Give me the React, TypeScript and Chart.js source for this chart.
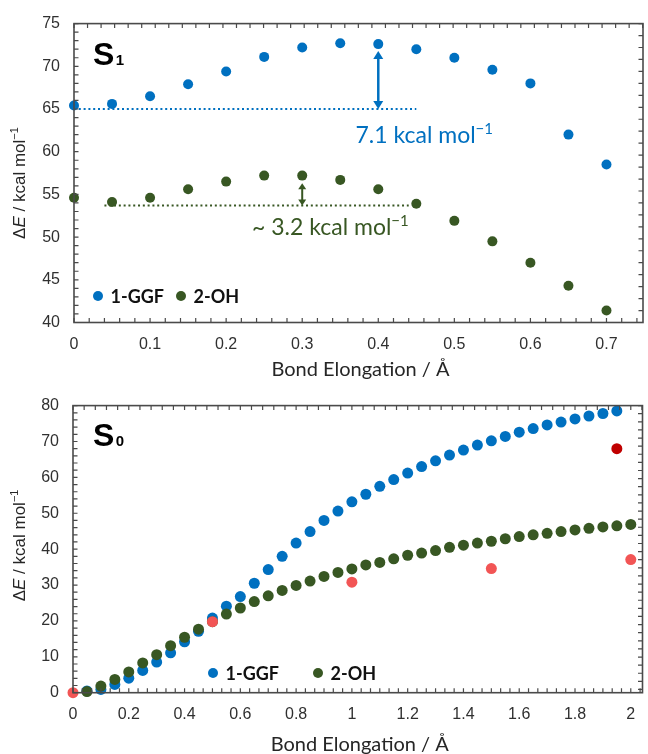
import React, { useEffect, useRef } from "react";
import { Chart, registerables } from "chart.js";

Chart.register(...registerables);

const BLUE = "#0070C0";
const GREEN = "#385723";
const RED = "#F25555";
const DARK_RED = "#C00000";
const AXIS = "#4a4a4a";
const TICK_TXT = "#303030";
const ARIAL = '"Liberation Sans", Arial, sans-serif';
const CAL = 'Lato, "Open Sans", sans-serif';

// ---------- S1 panel data ----------
const s1Elong = [0, 0.05, 0.1, 0.15, 0.2, 0.25, 0.3, 0.35, 0.4, 0.45, 0.5, 0.55, 0.6, 0.65, 0.7];
const s1GGF = [65.4, 65.6, 66.5, 67.9, 69.4, 71.1, 72.2, 72.7, 72.6, 72.0, 71.0, 69.6, 68.0, 62.0, 58.5];
const s1OH = [54.6, 54.1, 54.6, 55.6, 56.5, 57.2, 57.2, 56.7, 55.6, 53.9, 51.9, 49.5, 47.0, 44.3, 41.4];
const s1XTicks = [0, 0.1, 0.2, 0.3, 0.4, 0.5, 0.6, 0.7];
const s1YTicks = [40, 45, 50, 55, 60, 65, 70, 75];

// ---------- S0 panel data ----------
const s0ElongGGF = [0.05, 0.1, 0.15, 0.2, 0.25, 0.3, 0.35, 0.4, 0.45, 0.5, 0.55, 0.6, 0.65, 0.7, 0.75, 0.8, 0.85, 0.9, 0.95, 1.0,
  1.05, 1.1, 1.15, 1.2, 1.25, 1.3, 1.35, 1.4, 1.45, 1.5, 1.55, 1.6, 1.65, 1.7, 1.75, 1.8, 1.85, 1.9, 1.95];
const s0GGF = [0.5, 0.9, 2.3, 4.05, 6.2, 8.55, 11.1, 14.2, 17.1, 20.8, 24.1, 26.8, 30.5, 34.3, 38.0, 41.7, 44.9, 48.0, 50.6, 53.2,
  55.3, 57.5, 59.4, 61.2, 63.0, 64.6, 66.2, 67.6, 69.0, 70.2, 71.4, 72.6, 73.6, 74.6, 75.4, 76.3, 77.1, 77.8, 78.5];
const s0ElongOH = [0.05, 0.1, 0.15, 0.2, 0.25, 0.3, 0.35, 0.4, 0.45, 0.5, 0.55, 0.6, 0.65, 0.7, 0.75, 0.8, 0.85, 0.9, 0.95, 1.0,
  1.05, 1.1, 1.15, 1.2, 1.25, 1.3, 1.35, 1.4, 1.45, 1.5, 1.55, 1.6, 1.65, 1.7, 1.75, 1.8, 1.85, 1.9, 1.95, 2.0];
const s0OH = [0.3, 1.85, 3.7, 5.8, 8.3, 10.6, 13.1, 15.45, 17.7, 19.8, 21.9, 23.6, 25.4, 27.0, 28.5, 29.9, 31.1, 32.4, 33.5, 34.5,
  35.6, 36.3, 37.3, 38.3, 38.9, 39.6, 40.5, 41.1, 41.7, 42.2, 42.9, 43.5, 44.0, 44.4, 44.9, 45.35, 45.8, 46.2, 46.5, 46.9];
const s0ElongRef = [0, 0.5, 1.0, 1.5, 2.0];
const s0Ref = [0, 19.8, 30.8, 34.6, 37.1];
const s0ElongRefDark = [1.95];
const s0RefDark = [68.0];
const s0XTicks = [0, 0.2, 0.4, 0.6, 0.8, 1, 1.2, 1.4, 1.6, 1.8, 2];
const s0YTicks = [0, 10, 20, 30, 40, 50, 60, 70, 80];

const seriesLabels = ["1-GGF", "2-OH"];
const xTitle = "Bond Elongation / Å";

// annotations of S1 panel
const s1Dotted = [
  { y: 65.0, x0: 0, x1: 0.45, color: BLUE },
  { y: 53.7, x0: 0.04, x1: 0.44, color: GREEN },
];
const s1Arrows = [
  { x: 0.4, y0: 71.8, y1: 65.0, color: BLUE, lw: 2.5, hl: 8, hw: 10 },
  { x: 0.3, y0: 56.3, y1: 53.7, color: GREEN, lw: 2, hl: 6, hw: 8 },
];
const s1Notes = [
  { x: 0.37, y: 61.0, text: "7.1 kcal mol", color: BLUE },
  { x: 0.234, y: 50.3, text: "~ 3.2 kcal mol", color: GREEN },
];

type Part = { text: string; font: string; dy?: number };

function measureParts(ctx: CanvasRenderingContext2D, parts: Part[]) {
  let w = 0;
  for (const p of parts) {
    ctx.font = p.font;
    w += ctx.measureText(p.text).width;
  }
  return w;
}

function drawParts(ctx: CanvasRenderingContext2D, x: number, y: number, parts: Part[], align: "left" | "center") {
  const total = measureParts(ctx, parts);
  let cx = align === "center" ? x - total / 2 : x;
  ctx.textAlign = "left";
  ctx.textBaseline = "alphabetic";
  for (const p of parts) {
    ctx.font = p.font;
    ctx.fillText(p.text, cx, y + (p.dy || 0));
    cx += ctx.measureText(p.text).width;
  }
}

type Spec = {
  datasets: any[];
  xMin: number; xMax: number; yMin: number; yMax: number;
  xTicks: number[]; yTicks: number[];
  yAxisWidth: number; xAxisHeight: number; padTop: number; padRight: number;
  xMinor: number; yMinor: number; topMinor: number; rightMinor: number;
  xTitleDy: number; yTitleDy: number;
  sub: string; sDx: number; sDy: number;
  legendDy: number; legendDx: number[];
  dotted?: typeof s1Dotted; arrows?: typeof s1Arrows; notes?: typeof s1Notes;
};

function makePlugin(spec: Spec) {
  return {
    id: "panel",
    beforeDatasetsDraw(chart: any) {
      const ctx: CanvasRenderingContext2D = chart.ctx;
      const xs = chart.scales.x, ys = chart.scales.y;
      ctx.save();
      (spec.dotted || []).forEach((d) => {
        ctx.strokeStyle = d.color;
        ctx.lineWidth = 2;
        ctx.setLineDash([2, 2.8]);
        ctx.beginPath();
        const py = ys.getPixelForValue(d.y);
        ctx.moveTo(xs.getPixelForValue(d.x0), py);
        ctx.lineTo(xs.getPixelForValue(d.x1), py);
        ctx.stroke();
      });
      ctx.setLineDash([]);
      (spec.arrows || []).forEach((a) => {
        const px = xs.getPixelForValue(a.x);
        const pTop = ys.getPixelForValue(a.y0);
        const pBot = ys.getPixelForValue(a.y1);
        ctx.strokeStyle = a.color;
        ctx.fillStyle = a.color;
        ctx.lineWidth = a.lw;
        ctx.beginPath();
        ctx.moveTo(px, pTop + a.hl - 1);
        ctx.lineTo(px, pBot - a.hl + 1);
        ctx.stroke();
        ctx.beginPath();
        ctx.moveTo(px, pTop);
        ctx.lineTo(px - a.hw / 2, pTop + a.hl);
        ctx.lineTo(px + a.hw / 2, pTop + a.hl);
        ctx.closePath();
        ctx.fill();
        ctx.beginPath();
        ctx.moveTo(px, pBot);
        ctx.lineTo(px - a.hw / 2, pBot - a.hl);
        ctx.lineTo(px + a.hw / 2, pBot - a.hl);
        ctx.closePath();
        ctx.fill();
      });
      (spec.notes || []).forEach((n) => {
        ctx.fillStyle = n.color;
        drawParts(ctx, xs.getPixelForValue(n.x), ys.getPixelForValue(n.y), [
          { text: n.text, font: `23px ${CAL}` },
          { text: "−1", font: `15px ${CAL}`, dy: -9 },
        ], "left");
      });
      ctx.restore();
    },
    afterDraw(chart: any) {
      const ctx: CanvasRenderingContext2D = chart.ctx;
      const { left, right, top, bottom } = chart.chartArea;
      const xs = chart.scales.x, ys = chart.scales.y;
      ctx.save();
      // minor ticks
      ctx.strokeStyle = AXIS;
      ctx.lineWidth = 1.2;
      const L = 4.5;
      ctx.beginPath();
      for (let v = spec.xMin; v <= spec.xMax + 1e-9; v += spec.xMinor) {
        const p = xs.getPixelForValue(v);
        ctx.moveTo(p, bottom); ctx.lineTo(p, bottom - L);
      }
      for (let v = spec.xMin; v <= spec.xMax + 1e-9; v += spec.topMinor) {
        const p = xs.getPixelForValue(v);
        ctx.moveTo(p, top); ctx.lineTo(p, top + L);
      }
      for (let v = spec.yMin; v <= spec.yMax + 1e-9; v += spec.yMinor) {
        const p = ys.getPixelForValue(v);
        ctx.moveTo(left, p); ctx.lineTo(left + L, p);
      }
      for (let v = spec.yMax; v >= spec.yMin - 1e-9; v -= spec.rightMinor) {
        const p = ys.getPixelForValue(v);
        ctx.moveTo(right, p); ctx.lineTo(right - L, p);
      }
      ctx.stroke();
      // frame
      ctx.lineWidth = 1.6;
      ctx.strokeRect(left, top, right - left, bottom - top);

      // S label
      ctx.fillStyle = "#000";
      ctx.textAlign = "left";
      ctx.textBaseline = "alphabetic";
      ctx.font = `bold 32px ${ARIAL}`;
      ctx.fillText("S", left + spec.sDx, top + spec.sDy);
      const sw = ctx.measureText("S").width;
      ctx.font = `bold 15px ${ARIAL}`;
      ctx.fillText(spec.sub, left + spec.sDx + sw + 1.5, top + spec.sDy);

      // legend
      const colors = [BLUE, GREEN];
      const ly = bottom + spec.legendDy;
      seriesLabels.forEach((lab, i) => {
        const dx = left + spec.legendDx[i];
        ctx.fillStyle = colors[i];
        ctx.beginPath();
        ctx.arc(dx, ly, 5, 0, Math.PI * 2);
        ctx.fill();
        ctx.fillStyle = "#111";
        ctx.font = `bold 18px ${CAL}`;
        ctx.textBaseline = "middle";
        ctx.fillText(lab, dx + 12.5, ly + 1);
      });

      // x title
      ctx.fillStyle = "#262626";
      ctx.textBaseline = "alphabetic";
      ctx.font = `20px ${CAL}`;
      ctx.textAlign = "center";
      ctx.fillText(xTitle, (left + right) / 2 + 2, bottom + spec.xTitleDy);

      // y title
      ctx.save();
      ctx.translate(25, (top + bottom) / 2 + spec.yTitleDy);
      ctx.rotate(-Math.PI / 2);
      drawParts(ctx, 0, 0, [
        { text: "Δ", font: `17px ${ARIAL}` },
        { text: "E", font: `italic 17px ${ARIAL}` },
        { text: " / kcal mol", font: `17px ${ARIAL}` },
        { text: "−1", font: `11px ${ARIAL}`, dy: -7 },
      ], "center");
      ctx.restore();
      ctx.restore();
    },
  };
}

function buildConfig(spec: Spec): any {
  const tickFont = { family: ARIAL, size: 16 };
  return {
    type: "scatter",
    data: { datasets: spec.datasets },
    plugins: [makePlugin(spec)],
    options: {
      animation: false,
      responsive: false,
      devicePixelRatio: 1,
      layout: { padding: { top: spec.padTop, right: spec.padRight, left: 0, bottom: 0 } },
      plugins: { legend: { display: false }, tooltip: { enabled: false } },
      scales: {
        x: {
          type: "linear",
          min: spec.xMin,
          max: spec.xMax,
          grid: { display: false, drawTicks: false },
          border: { display: false },
          afterBuildTicks: (s: any) => { s.ticks = spec.xTicks.map((v) => ({ value: v })); },
          afterFit: (s: any) => { s.height = spec.xAxisHeight; },
          ticks: {
            includeBounds: false,
            font: tickFont,
            color: TICK_TXT,
            padding: 12,
            maxRotation: 0,
            autoSkip: false,
            callback: (v: number) => String(Math.round(v * 100) / 100),
          },
        },
        y: {
          type: "linear",
          min: spec.yMin,
          max: spec.yMax,
          grid: { display: false, drawTicks: false },
          border: { display: false },
          afterBuildTicks: (s: any) => { s.ticks = spec.yTicks.map((v) => ({ value: v })); },
          afterFit: (s: any) => { s.width = spec.yAxisWidth; },
          ticks: {
            includeBounds: false,
            font: tickFont,
            color: TICK_TXT,
            padding: 14,
            autoSkip: false,
            callback: (v: number) => String(v),
          },
        },
      },
    },
  };
}

const pts = (xs: number[], ys: number[]) => xs.map((x, i) => ({ x, y: ys[i] }));
const ds = (label: string, xs: number[], ys: number[], color: string, r: number) => ({
  label,
  data: pts(xs, ys),
  pointRadius: r,
  pointHoverRadius: r,
  pointBackgroundColor: color,
  pointBorderWidth: 0,
  borderWidth: 0,
  showLine: false,
  clip: false,
});

const s1Spec: Spec = {
  datasets: [
    ds(seriesLabels[0], s1Elong, s1GGF, BLUE, 5),
    ds(seriesLabels[1], s1Elong, s1OH, GREEN, 5),
  ],
  xMin: 0, xMax: 0.748, yMin: 40, yMax: 75,
  xTicks: s1XTicks, yTicks: s1YTicks,
  yAxisWidth: 74, xAxisHeight: 59.5, padTop: 20.5, padRight: 3,
  xMinor: 0.02, yMinor: 1, topMinor: 0.0178, rightMinor: 1.4,
  xTitleDy: 53, yTitleDy: 10,
  sub: "1", sDx: 19, sDy: 41.5,
  legendDy: -26.5, legendDx: [24, 107],
  dotted: s1Dotted, arrows: s1Arrows, notes: s1Notes,
};

const s0Spec: Spec = {
  datasets: [
    ds("ref", s0ElongRef, s0Ref, RED, 5.5),
    ds("ref2", s0ElongRefDark, s0RefDark, DARK_RED, 5.5),
    ds(seriesLabels[1], s0ElongOH, s0OH, GREEN, 5.5),
    ds(seriesLabels[0], s0ElongGGF, s0GGF, BLUE, 5.5),
  ],
  xMin: 0, xMax: 2.042, yMin: 0, yMax: 80,
  xTicks: s0XTicks, yTicks: s0YTicks,
  yAxisWidth: 73, xAxisHeight: 61.3, padTop: 20.7, padRight: 3,
  xMinor: 1 / 30, yMinor: 2, topMinor: 0.04, rightMinor: 2.26,
  xTitleDy: 58.3, yTitleDy: -3.7,
  sub: "0", sDx: 20, sDy: 40.6,
  legendDy: -19.7, legendDx: [140, 245],
};

function Panel({ spec, width, height, top }: { spec: Spec; width: number; height: number; top: number }) {
  const ref = useRef<HTMLCanvasElement>(null);
  useEffect(() => {
    const chart = new Chart(ref.current as HTMLCanvasElement, buildConfig(spec));
    return () => chart.destroy();
  }, [spec]);
  return (
    <canvas
      ref={ref}
      width={width}
      height={height}
      style={{ position: "absolute", left: 0, top, width, height, display: "block" }}
    />
  );
}

export default function App() {
  return (
    <div style={{ position: "fixed", left: 0, top: 0, width: 648, height: 754, background: "#fff", overflow: "hidden" }}>
      <Panel spec={s1Spec} width={648} height={382} top={0} />
      <Panel spec={s0Spec} width={648} height={372} top={382} />
    </div>
  );
}
